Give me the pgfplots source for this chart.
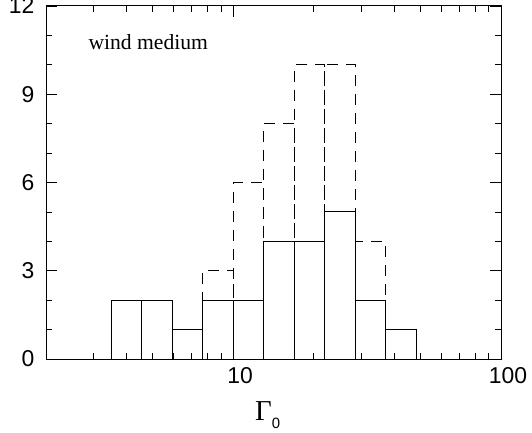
\documentclass[border=0pt]{standalone}
\usepackage{fontspec}
\setmainfont{Liberation Serif}
\setsansfont{Liberation Sans}
\usepackage{pgfplots}
\pgfplotsset{compat=1.18}
\begin{document}
\begin{tikzpicture}
\begin{semilogxaxis}[
  name=ax,
  scale only axis,
  width=455bp, height=353bp,
  xmin=2, xmax=100, ymin=0, ymax=12,
  xtick={10,100}, xticklabels={10,100},
  minor xtick={2,3,4,5,6,7,8,9,20,30,40,50,60,70,80,90},
  ytick={0,3,6,9,12},
  minor ytick={1,2,4,5,7,8,10,11},
  tick align=inside,
  major tick length=11bp, minor tick length=6bp,
  axis line style={line width=1bp, black},
  every tick/.style={black, line width=0.8bp},
  /pgf/number format/assume math mode=true,
  ticklabel style={font=\sffamily\fontsize{23}{25}\selectfont},
  xticklabel style={yshift=-5bp, xshift=7bp},
  yticklabel style={xshift=-8bp},
  xlabel={\fontsize{29}{30}\selectfont Γ\raisebox{-8bp}{\sffamily\fontsize{15}{16}\selectfont 0}},
  xlabel style={at={(axis description cs:0.487,0)}, anchor=base, yshift=-61bp},
]
% dashed histogram (bin edges 10*1.3^k)
\addplot[ybar interval, draw=black, fill=none, line width=0.9bp, dash pattern=on 11bp off 8bp] coordinates {
 (3.501,2) (4.552,2) (5.917,1) (7.692,3) (10,6) (13,8) (16.9,10) (21.97,10) (28.561,4) (37.129,1) (48.268,0)
};
% solid histogram
\addplot[ybar interval, draw=black, fill=none, line width=0.9bp] coordinates {
 (3.501,2) (4.552,2) (5.917,1) (7.692,2) (10,2) (13,4) (16.9,4) (21.97,5) (28.561,2) (37.129,1) (48.268,0)
};
\node[anchor=base west, font=\fontsize{21.7}{24}\selectfont] at (rel axis cs:0.0857,0.877) {wind medium};
\end{semilogxaxis}
\pgfresetboundingbox
\path[use as bounding box] ([xshift=-46bp,yshift=-74bp]ax.south west) rectangle ([xshift=31bp,yshift=6bp]ax.north east);
\end{tikzpicture}
\end{document}
